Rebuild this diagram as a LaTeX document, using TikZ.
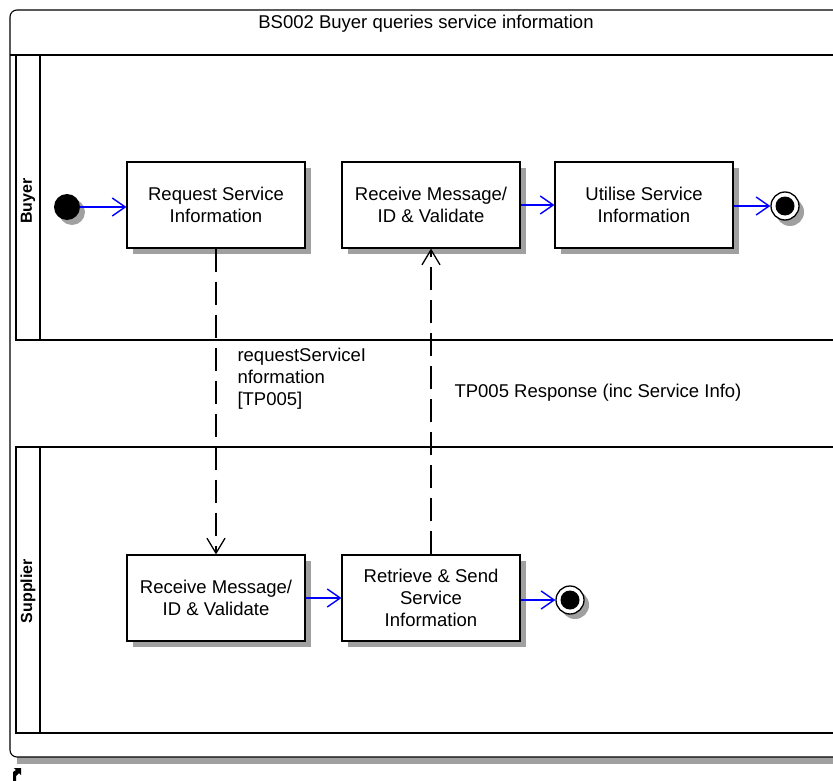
\documentclass[tikz,border=0pt]{standalone}
\usepackage{fontspec}
\setmainfont{Liberation Sans}
\usetikzlibrary{arrows.meta}
\definecolor{shadowgray}{HTML}{A0A0A0}
\definecolor{flowblue}{HTML}{0000FF}
\tikzset{
  actbox/.style={draw=black, line width=1.1pt, fill=white, minimum width=178pt, minimum height=86pt, align=center, font=\fontsize{18.5}{22}\selectfont, inner sep=0pt},
  shadowbox/.style={fill=shadowgray, draw=none, minimum width=178pt, minimum height=86pt, inner sep=0pt},
  flow/.style={draw=flowblue, line width=1.4pt, -{Straight Barb[length=13pt,width=18pt,line width=1.4pt]}},
  msg/.style={draw=black, line width=1.3pt, dash pattern=on 23pt off 10pt, -{Straight Barb[length=15pt,width=18pt,line width=1.3pt]}},
  lanelabel/.style={rotate=90, font=\bfseries\fontsize{16}{18}\selectfont},
  lbl/.style={font=\fontsize{18.5}{22}\selectfont, align=left, anchor=west}
}
\begin{document}
\begin{tikzpicture}[x=1pt,y=-1pt]
\useasboundingbox (0,0) rectangle (833,781);
% outer frame shadow and frame
\fill[shadowgray] (17,757) rectangle (860,764);
\draw[line width=1.1pt, rounded corners=7pt, fill=white] (10,10) rectangle (870,757);
\draw[line width=1.1pt] (10,55) -- (870,55);
\node[font=\fontsize{18.5}{22}\selectfont] (title) at (426,24) {BS002 Buyer queries service information};
% lanes
\draw[line width=1.1pt] (16,55) rectangle (870,340);
\draw[line width=1.1pt] (40,55) -- (40,340);
\draw[line width=1.1pt] (16,447) rectangle (870,733);
\draw[line width=1.1pt] (40,447) -- (40,733);
\node[lanelabel] (buyer) at (28,201) {Buyer};
\node[lanelabel] (supplier) at (28,591) {Supplier};
% shadows
\node[shadowbox] at (222,211) {};
\node[shadowbox] at (437,211) {};
\node[shadowbox] at (650,211) {};
\node[shadowbox] at (222,604) {};
\node[shadowbox] at (437,604) {};
\fill[shadowgray] (72,212) circle (13);
\fill[shadowgray] (790,212) circle (14);
\fill[shadowgray] (575,605) circle (14);
% nodes
\node[circle, fill=black, minimum size=26pt, inner sep=0pt] (init) at (67,207) {};
\node[actbox] (req) at (216,205) {Request Service\\Information};
\node[actbox] (brecv) at (431,205) {Receive Message/\\ID \& Validate};
\node[actbox] (util) at (644,205) {Utilise Service\\Information};
\node[circle, draw=black, line width=1.3pt, fill=white, minimum size=28pt, inner sep=0pt] (bfinal) at (785,206) {};
\fill[black] (bfinal.center) circle (9.5);
\node[actbox] (srecv) at (216,598) {Receive Message/\\ID \& Validate};
\node[actbox] (send) at (431,598) {Retrieve \& Send\\Service\\Information};
\node[circle, draw=black, line width=1.3pt, fill=white, minimum size=28pt, inner sep=0pt] (sfinal) at (570,600) {};
\fill[black] (sfinal.center) circle (9.5);
% flows
\draw[flow] (init) -- (req.west |- init);
\draw[flow] (brecv.east) -- (util.west);
\draw[flow] (util.east |- bfinal) -- (bfinal.west);
\draw[flow] (srecv.east) -- (send.west);
\draw[flow] (send.east |- sfinal) -- (sfinal.west);
% messages
\draw[msg] (req.south) -- (srecv.north);
\draw[msg] (send.north) -- (brecv.south);
\node[lbl, anchor=north west] (l1) at (234,345) {requestServiceI\\nformation\\{[}TP005{]}};
\node[lbl] (l2) at (451,393) {TP005 Response (inc Service Info)};
% small corner icon
\fill[black] (13,781) -- (13,772) -- (16,770) -- (14,768) -- (21,768) -- (21,775) -- (19,773) -- (16,776) -- (16,781) -- cycle;
\end{tikzpicture}
\end{document}
